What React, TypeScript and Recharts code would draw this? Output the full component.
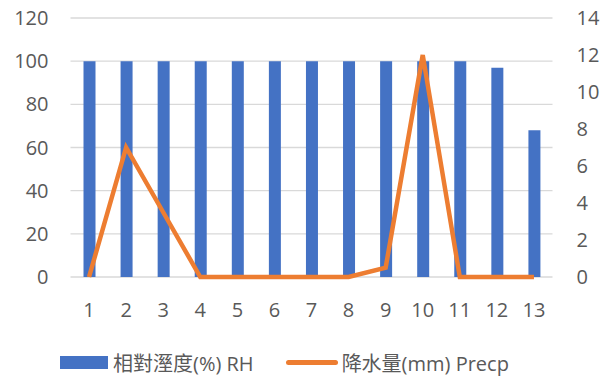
import React from 'react';
import { ComposedChart, Bar, Line, XAxis, YAxis, CartesianGrid, Legend } from 'recharts';

const days = ['1', '2', '3', '4', '5', '6', '7', '8', '9', '10', '11', '12', '13'];
const rh = [100, 100, 100, 100, 100, 100, 100, 100, 100, 100, 100, 97, 68];
const precp = [0, 7, 3.5, 0, 0, 0, 0, 0, 0.5, 12, 0, 0, 0];
const rhTicks = [0, 20, 40, 60, 80, 100, 120];
const precpTicks = [0, 2, 4, 6, 8, 10, 12, 14];

const RH_LABEL = '相對溼度(%) RH';
const PRECP_LABEL = '降水量(mm) Precp';

const BLUE = '#4472C4';
const ORANGE = '#ED7D31';
const TEXT = '#595959';
const FONT = '"Open Sans", "Noto Sans CJK TC", sans-serif';

const data = days.map((d, i) => ({ day: d, rh: rh[i], precp: precp[i] }));

const ChartLegend = () => (
  <div style={{ display: 'flex', alignItems: 'center', height: 28, fontFamily: FONT, fontSize: 20, color: TEXT, paddingLeft: 60 }}>
    <span style={{ display: 'inline-block', width: 48, height: 13, background: BLUE, marginRight: 5 }} />
    <span>{RH_LABEL}</span>
    <span style={{ display: 'inline-block', width: 52, height: 5, borderRadius: 3, background: ORANGE, marginLeft: 32, marginRight: 4 }} />
    <span>{PRECP_LABEL}</span>
  </div>
);

const App: React.FC = () => {
  return (
    <div style={{ position: 'absolute', left: 0, top: 0, background: '#fff' }}>
      <ComposedChart width={611} height={378} data={data} margin={{ top: 18, right: 0, left: 0, bottom: 2 }}>
        <CartesianGrid vertical={false} stroke="#D9D9D9" strokeWidth={1.3} yAxisId="left" />
        <XAxis
          dataKey="day"
          axisLine={false}
          tickLine={false}
          height={71}
          tick={{ fill: TEXT, fontSize: 20, fontFamily: FONT, dy: 18 }}
          interval={0}
        />
        <YAxis
          yAxisId="left"
          width={70.5}
          domain={[0, 120]}
          ticks={rhTicks}
          axisLine={false}
          tickLine={false}
          tick={{ fill: TEXT, fontSize: 20, fontFamily: FONT, dx: -14 }}
        />
        <YAxis
          yAxisId="right"
          orientation="right"
          width={58.5}
          domain={[0, 14]}
          ticks={precpTicks}
          axisLine={false}
          tickLine={false}
          tick={{ fill: TEXT, fontSize: 20, fontFamily: FONT, dx: 16 }}
        />
        <Legend verticalAlign="bottom" content={<ChartLegend />} />
        <Bar yAxisId="left" dataKey="rh" name={RH_LABEL} fill={BLUE} barSize={12} isAnimationActive={false} />
        <Line
          yAxisId="right"
          type="linear"
          dataKey="precp"
          name={PRECP_LABEL}
          stroke={ORANGE}
          strokeWidth={4.5}
          dot={false}
          isAnimationActive={false}
        />
      </ComposedChart>
    </div>
  );
};

export default App;
